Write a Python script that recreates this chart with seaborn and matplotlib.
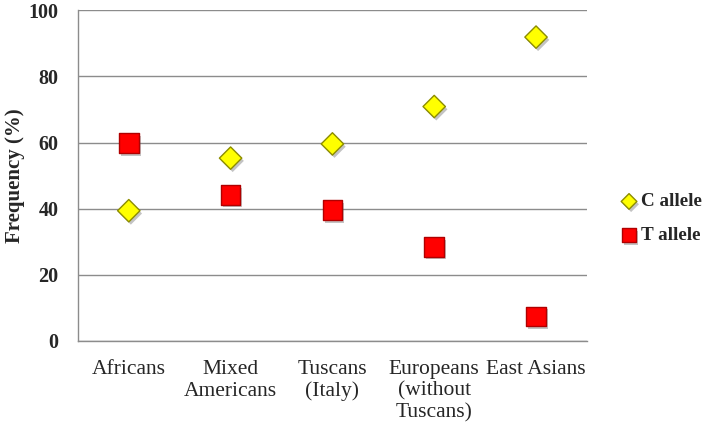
import matplotlib
matplotlib.use("Agg")
import matplotlib.pyplot as plt
import matplotlib.patheffects as pe
from matplotlib.ticker import FixedLocator
import pandas as pd
import seaborn as sns

# data
populations = ["Africans", "Mixed\nAmericans", "Tuscans\n(Italy)",
               "Europeans\n(without\nTuscans)", "East Asians"]
c_allele = [39.4, 55.3, 59.6, 70.9, 91.9]
t_allele = [59.8, 44.2, 39.6, 28.5, 7.4]
series = ["C allele", "T allele"]

sns.set_style("white")
plt.rcParams["font.family"] = ["Liberation Serif", "DejaVu Serif"]

df = pd.DataFrame({
    "population": populations * 2,
    "freq": c_allele + t_allele,
    "allele": [series[0]] * len(populations) + [series[1]] * len(populations),
})

fig = plt.figure(figsize=(7.08, 4.30), dpi=100)
ax = fig.add_axes([0.110, 0.207, 0.719, 0.769])

shadow = [pe.SimplePatchShadow(offset=(1.5, -2), shadow_rgbFace="#555555", alpha=0.35), pe.Normal()]

sns.scatterplot(data=df[df["allele"] == series[0]], x="population", y="freq",
                marker="D", s=130, color="#FFFF00", edgecolor="#8C8C00",
                linewidth=1.0, ax=ax, label=series[0], zorder=3)
sns.scatterplot(data=df[df["allele"] == series[1]], x="population", y="freq",
                marker="s", s=200, color="#FF0000", edgecolor="#B00000",
                linewidth=1.0, ax=ax, label=series[1], zorder=3)
for coll in ax.collections:
    coll.set_path_effects(shadow)

ax.set_ylim(0, 100)
ax.set_xlim(-0.5, len(populations) - 0.5)
ax.set_yticks(range(0, 101, 20))
ax.yaxis.grid(True, color="#8C8C8C", linewidth=1.0)
ax.set_axisbelow(True)

for side in ["top", "right"]:
    ax.spines[side].set_visible(False)
for side in ["left", "bottom"]:
    ax.spines[side].set_color("#8C8C8C")
    ax.spines[side].set_linewidth(1.0)

ax.set_xticks(range(len(populations)))
ax.set_xticklabels(populations, fontsize=15.5, linespacing=1.15)
ax.tick_params(axis="x", which="major", length=0, pad=14)
ax.xaxis.set_minor_locator(FixedLocator([i - 0.5 for i in range(len(populations) + 1)]))
ax.tick_params(axis="x", which="minor", length=5, color="#8C8C8C", width=1.0, direction="out")
ax.tick_params(axis="y", length=6, color="#8C8C8C", width=1.0, labelsize=14.5, pad=8)
for lbl in ax.get_yticklabels():
    lbl.set_fontweight("bold")

ax.set_xlabel("")
ax.set_ylabel("Frequency (%)", fontsize=15, fontweight="bold")
ax.yaxis.set_label_coords(-0.103, 0.5)

leg = ax.legend(loc="center left", bbox_to_anchor=(1.03, 0.37), frameon=False,
                fontsize=13.8, handletextpad=0.1, labelspacing=0.85,
                markerscale=0.7, handlelength=1.0)
for t in leg.get_texts():
    t.set_fontweight("bold")

fig.savefig("out.png", dpi=100, facecolor="white")
